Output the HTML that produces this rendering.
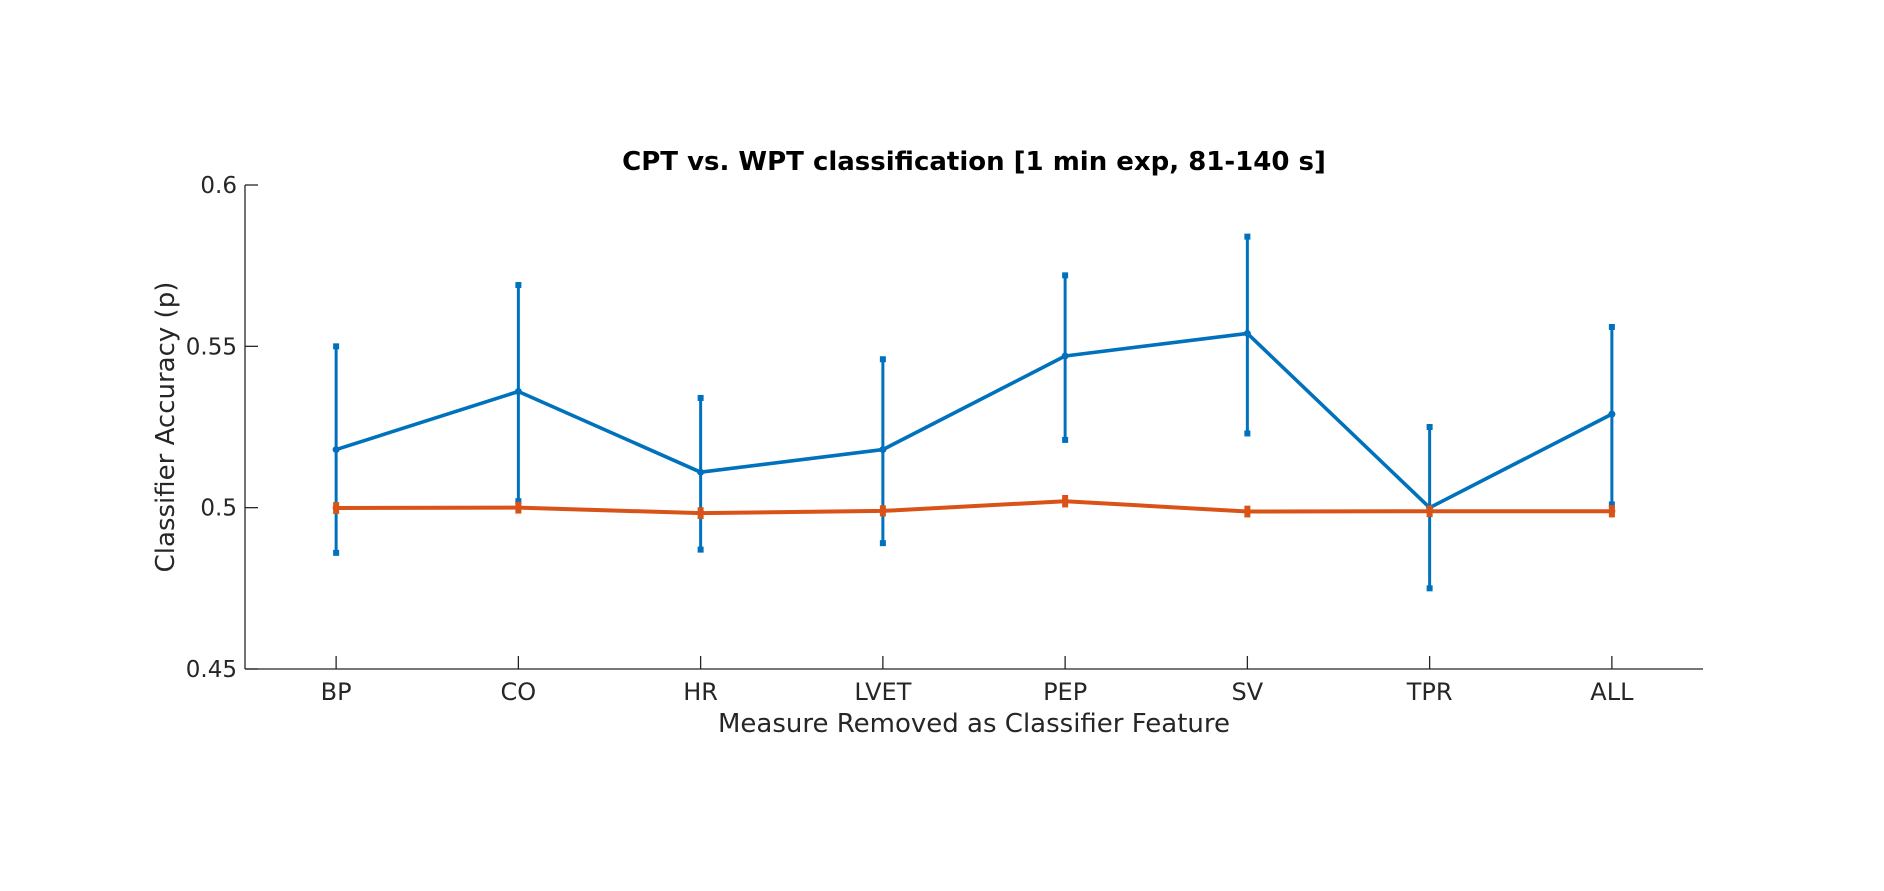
<!DOCTYPE html>
<html><head><meta charset="utf-8"><style>
html,body{margin:0;padding:0;background:#fff;}
svg text{font-family:"DejaVu Sans","Liberation Sans",sans-serif;}
</style></head><body>
<svg id="chart" width="1884" height="886" viewBox="0 0 1884 886" xmlns="http://www.w3.org/2000/svg">
<rect width="1884" height="886" fill="#fff"/>
<text x="974" y="170" text-anchor="middle" font-size="26" font-weight="bold" fill="#000">CPT vs. WPT classification [1 min exp, 81-140 s]</text>
<g id="axes"></g>
<g id="series"></g>
<text x="974" y="732" text-anchor="middle" font-size="26" fill="#262626">Measure Removed as Classifier Feature</text>
<text transform="translate(174,427) rotate(-90)" text-anchor="middle" font-size="26" fill="#262626">Classifier Accuracy (p)</text>
</svg>
<script>
const categories = ["BP","CO","HR","LVET","PEP","SV","TPR","ALL"];
const blueMean = [0.518,0.536,0.511,0.518,0.547,0.554,0.500,0.529];
const blueUpper = [0.550,0.569,0.534,0.546,0.572,0.584,0.525,0.556];
const blueLower = [0.486,0.502,0.487,0.489,0.521,0.523,0.475,0.501];
const orangeMean = [0.4999,0.5000,0.4983,0.4990,0.5020,0.4988,0.4989,0.4989];
const orangeUpper = [0.5008,0.5009,0.4992,0.4998,0.5030,0.4997,0.4998,0.4999];
const orangeLower = [0.4990,0.4991,0.4974,0.4982,0.5010,0.4979,0.4980,0.4979];
const yTicks = [0.45,0.5,0.55,0.6];
const yTickLabels = ["0.45","0.5","0.55","0.6"];

const L=245,R=1703,T=185,B=669,yMin=0.45,yMax=0.6;
const NS="http://www.w3.org/2000/svg";
function xs(i){return L+(i+0.5)*(R-L)/categories.length;}
function ys(v){return B-(v-yMin)/(yMax-yMin)*(B-T);}
function mk(tag,attrs,parent){const e=document.createElementNS(NS,tag);for(const k in attrs)e.setAttribute(k,attrs[k]);parent.appendChild(e);return e;}
const axes=document.getElementById('axes'),series=document.getElementById('series');

let e=mk('line',{x1:L,y1:T,x2:L,y2:B,stroke:'#262626','stroke-width':1.3},axes);


e=mk('line',{x1:L,y1:B,x2:R,y2:B,stroke:'#262626','stroke-width':1.3},axes);


yTicks.forEach((v,i)=>{
  const y=ys(v);
  let t=mk('line',{x1:L,y1:y,x2:L+13,y2:y,stroke:'#262626','stroke-width':1.3},axes);
  
  
  let tx=mk('text',{x:L-8,y:y+8,'text-anchor':'end','font-size':23,fill:'#262626'},axes);
  tx.textContent=yTickLabels[i];
  
  
});
categories.forEach((c,i)=>{
  const x=xs(i);
  let t=mk('line',{x1:x,y1:B,x2:x,y2:B-13,stroke:'#262626','stroke-width':1.3},axes);
  
  
  let tx=mk('text',{x:x,y:700,'text-anchor':'middle','font-size':24,fill:'#262626'},axes);
  tx.textContent=c;
  
  
});
function drawSeries(mean,up,lo,color,name,lw){
  const g=mk('g',{},series);
  
  
  mean.forEach((m,i)=>{
    const x=xs(i);
    let eb=mk('line',{x1:x,y1:ys(up[i]),x2:x,y2:ys(lo[i]),stroke:color,'stroke-width':3},g);
    
    
    [up[i],lo[i]].forEach(v=>{
      let cap=mk('rect',{x:x-3,y:ys(v)-3,width:6,height:6,fill:color},g);
      
      
    });
  });
  const pts=mean.map((m,i)=>xs(i)+','+ys(m)).join(' ');
  let pl=mk('polyline',{points:pts,fill:'none',stroke:color,'stroke-width':lw,'stroke-linejoin':'round'},g);
  
  
  mean.forEach((m,i)=>{
    let p=mk('circle',{cx:xs(i),cy:ys(m),r:3.5,fill:color},g);
    
    
  });
}
drawSeries(blueMean,blueUpper,blueLower,'#0072BD','blue',3.6);
drawSeries(orangeMean,orangeUpper,orangeLower,'#D95319','orange',4);
</script>
</body></html>
